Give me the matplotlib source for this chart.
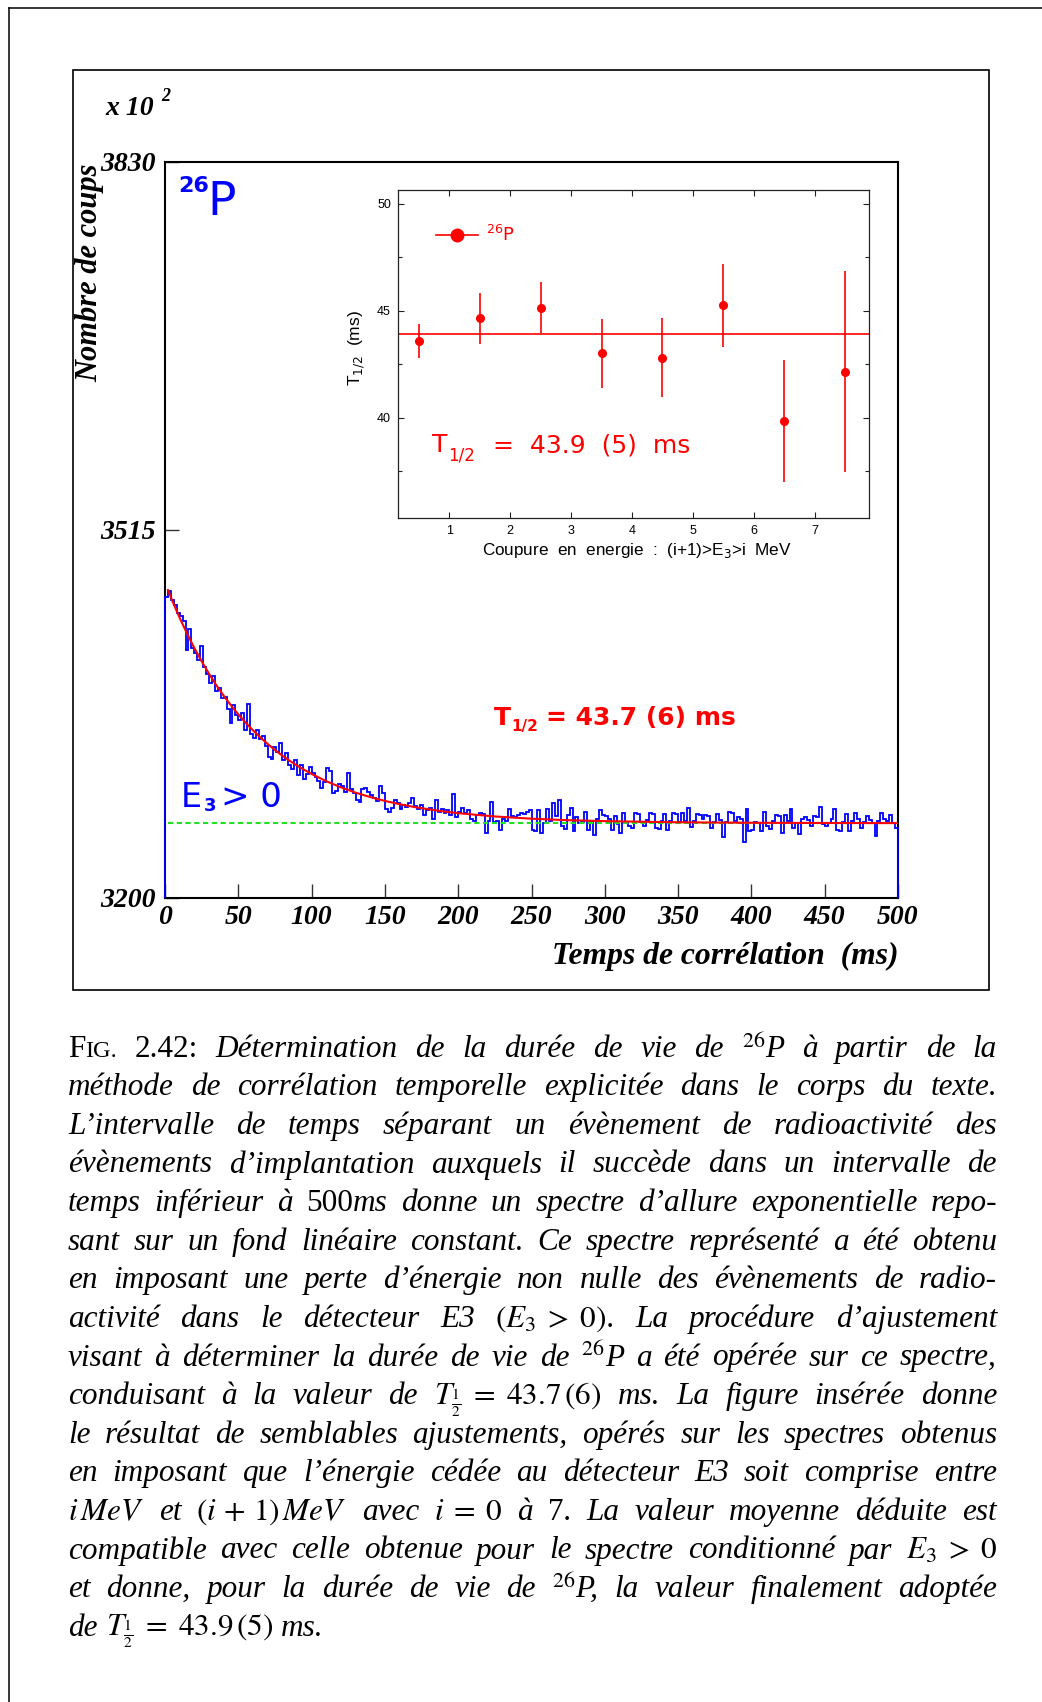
import numpy as np
import matplotlib
matplotlib.use("Agg")
import matplotlib.pyplot as plt
from matplotlib.lines import Line2D
from matplotlib.patches import Rectangle

# =========================================================
# DONNEES
# =========================================================

W, H = 1042, 1702

# spectre en temps : bins de 2 ms, unites de 10^2 coups
pas_ms = 2
coups = [
    3458, 3463, 3455, 3451, 3444, 3441, 3437, 3412, 3430, 3414,
    3410, 3404, 3416, 3398, 3392, 3384, 3390, 3377, 3380, 3371,
    3372, 3362, 3350, 3365, 3357, 3352, 3358, 3344, 3366, 3340,
    3337, 3344, 3336, 3339, 3330, 3321, 3319, 3329, 3325, 3333,
    3318, 3324, 3314, 3310, 3318, 3305, 3314, 3302, 3306, 3312,
    3307, 3304, 3300, 3294, 3299, 3311, 3309, 3290, 3292, 3298,
    3296, 3291, 3307, 3293, 3290, 3284, 3282, 3293, 3294, 3291,
    3288, 3286, 3283, 3296, 3290, 3276, 3274, 3277, 3284, 3281,
    3276, 3280, 3278, 3281, 3286, 3279, 3276, 3280, 3271, 3275,
    3277, 3268, 3284, 3274, 3276, 3273, 3275, 3271, 3289, 3269,
    3274, 3277, 3273, 3275, 3268, 3266, 3271, 3273, 3272, 3256,
    3266, 3282, 3265, 3266, 3258, 3268, 3266, 3276, 3270, 3269,
    3271, 3273, 3272, 3274, 3275, 3258, 3257, 3275, 3256, 3264,
    3276, 3266, 3281, 3270, 3284, 3262, 3259, 3271, 3277, 3257,
    3269, 3264, 3265, 3274, 3258, 3266, 3254, 3268, 3275, 3271,
    3270, 3268, 3258, 3270, 3263, 3256, 3273, 3264, 3262, 3260,
    3273, 3272, 3265, 3262, 3267, 3273, 3272, 3260, 3259, 3266,
    3272, 3258, 3266, 3273, 3272, 3265, 3273, 3266, 3277, 3261,
    3266, 3272, 3271, 3268, 3271, 3270, 3260, 3265, 3272, 3267,
    3252, 3265, 3274, 3273, 3266, 3269, 3268, 3248, 3276, 3257,
    3258, 3265, 3264, 3257, 3274, 3262, 3259, 3266, 3271, 3270,
    3256, 3271, 3266, 3276, 3260, 3264, 3255, 3268, 3269, 3267,
    3262, 3270, 3269, 3278, 3263, 3262, 3264, 3268, 3276, 3258,
    3257, 3265, 3272, 3257, 3266, 3273, 3268, 3260, 3265, 3270,
    3267, 3264, 3253, 3266, 3273, 3268, 3266, 3271, 3264, 3260,
]

# courbe d'ajustement (exponentielle + fond), T1/2 = 43.7 ms
t_fit = [2, 5, 10, 15, 20, 25, 30, 35, 40, 45, 50, 55, 60, 65, 70, 75,
         80, 85, 90, 95, 100, 110, 120, 130, 140, 150, 160, 170, 180,
         190, 200, 225, 250, 275, 300, 350, 400, 450, 500]
y_fit = [3463.6, 3454.3, 3439.8, 3426.4, 3414.0, 3402.6, 3392.0, 3382.2,
         3373.2, 3364.9, 3357.2, 3350.1, 3343.5, 3337.5, 3331.9, 3326.7,
         3321.9, 3317.5, 3313.4, 3309.7, 3306.2, 3300.0, 3294.7, 3290.2,
         3286.4, 3283.1, 3280.3, 3277.9, 3275.9, 3274.1, 3272.6, 3269.8,
         3267.9, 3266.6, 3265.8, 3264.8, 3264.4, 3264.2, 3264.1]
fond = 3264

# figure inseree : T1/2 par tranche d'energie
coupure = [0.5, 1.5, 2.5, 3.5, 4.5, 5.5, 6.5, 7.5]
t_demi = [43.6, 44.65, 45.15, 43.0, 42.8, 45.25, 39.85, 42.15]
err_t_demi = [0.8, 1.2, 1.2, 1.6, 1.85, 1.95, 2.85, 4.7]
t_moyen = 43.9

x_ticks = list(range(0, 501, 50))
y_ticks = [3200, 3515, 3830]

# =========================================================
# FIGURE
# =========================================================

fig = plt.figure(figsize=(W / 100, H / 100), dpi=100)


def fx(x):
    return x / W


def fy(y):
    return 1 - y / H


BLEU = '#0000ff'
ROUGE = '#ff0000'
VERT = '#22e022'
SERIF_BI = dict(family='Liberation Serif', weight='bold', style='italic')

# cadre de page + cadre de la figure
fig.add_artist(Line2D([fx(9), fx(9)], [0, fy(8)], color='black', lw=1.1))
fig.add_artist(Line2D([fx(9), 1], [fy(8), fy(8)], color='black', lw=1.1))
fig.add_artist(Rectangle((fx(73), fy(990)), 916 / W, 920 / H,
                         fill=False, ec='black', lw=1.2))

# ---------------------------------------------------------
# spectre principal
# ---------------------------------------------------------
ax = fig.add_axes([fx(165), fy(898), 733 / W, 736 / H])
bords = np.arange(0, 500 + pas_ms, pas_ms)
ax.stairs(coups, bords, baseline=3200, color=BLEU, lw=1.3,
          zorder=3, clip_on=False)
ax.hlines(fond, 2, 500, colors=VERT, lw=1.5,
          linestyles=(0, (2.5, 1.7)), zorder=4)
ax.plot(t_fit, y_fit, color=ROUGE, lw=1.5, zorder=5)

ax.set_xlim(0, 500)
ax.set_ylim(3200, 3830)
ax.set_xticks(x_ticks)
ax.set_yticks(y_ticks)
ax.tick_params(direction='in', length=10, width=1, color='#333333',
               top=False, right=False)
ax.tick_params(axis='x', pad=5)
ax.tick_params(axis='y', pad=7)
plt.setp(ax.get_xticklabels(), size=20, **SERIF_BI)
plt.setp(ax.get_yticklabels(), size=20, **SERIF_BI)
for sp in ax.spines.values():
    sp.set_linewidth(1.5)
    sp.set_color('black')

fig.text(fx(105), fy(115), 'x 10', size=20, va='baseline', **SERIF_BI)
fig.text(fx(161), fy(101), '2', size=13, va='baseline', **SERIF_BI)
fig.text(fx(90), fy(163), 'Nombre de coups', size=22, rotation=90,
         ha='center', va='top', **SERIF_BI)
fig.text(fx(898), fy(956), 'Temps de corrélation  (ms)', size=22.8,
         ha='right', va='center', **SERIF_BI)

fig.text(fx(178), fy(192), '26', size=16, weight='bold', color=BLEU,
         family='DejaVu Sans', va='baseline')
fig.text(fx(207), fy(215), 'P', size=34, color=BLEU,
         family='DejaVu Sans', va='baseline')

fig.text(fx(181), fy(807), 'E', size=24, color=BLEU,
         family='DejaVu Sans', va='baseline')
fig.text(fx(204), fy(811), '3', size=13, weight='bold', color=BLEU,
         family='DejaVu Sans', va='baseline')
fig.text(fx(221), fy(807), '> 0', size=24.5, color=BLEU,
         family='DejaVu Sans', va='baseline')

fig.text(fx(494), fy(725), 'T', size=18, weight='bold', color=ROUGE,
         family='DejaVu Sans', va='baseline')
fig.text(fx(511), fy(731), '1/2', size=11, weight='bold', color=ROUGE,
         family='DejaVu Sans', va='baseline')
fig.text(fx(546), fy(725), '= 43.7 (6) ms', size=18, weight='bold',
         color=ROUGE, family='DejaVu Sans', va='baseline')

# ---------------------------------------------------------
# figure inseree
# ---------------------------------------------------------
axi = fig.add_axes([fx(398), fy(518), 471 / W, 328 / H])
axi.axhline(t_moyen, color=ROUGE, lw=1.2)
axi.errorbar(coupure, t_demi, yerr=err_t_demi, fmt='o', color=ROUGE,
             ms=5.5, elinewidth=1.2, capsize=0)
axi.set_xlim(0.16, 7.89)
axi.set_ylim(35.3, 50.65)
axi.set_xticks(range(1, 8))
axi.set_yticks([40, 45, 50])
axi.set_yticks([37.5, 42.5, 47.5], minor=True)
axi.tick_params(which='both', direction='in', top=True, right=True,
                width=0.8, color='#222222')
axi.tick_params(which='major', length=4, labelsize=9, pad=5)
axi.tick_params(which='minor', length=3)
plt.setp(axi.get_xticklabels(), family='Liberation Sans')
plt.setp(axi.get_yticklabels(), family='Liberation Sans')
for sp in axi.spines.values():
    sp.set_linewidth(0.9)
    sp.set_color('#222222')

poignee = Line2D([], [], color=ROUGE, marker='o', ms=9, lw=1.2)
axi.legend([poignee], ['$^{26}$P'], loc='center left',
           bbox_to_anchor=((436 - 398) / 471, (518 - 235) / 328),
           frameon=False, borderpad=0, borderaxespad=0, handlelength=2.3,
           handletextpad=0.45, fontsize=13, labelcolor=ROUGE)

fig.text(fx(637), fy(551), 'Coupure  en  energie  :  (i+1)>E$_3$>i  MeV',
         size=12.3, family='Liberation Sans', ha='center', va='center')
fig.text(fx(357), fy(348), 'T$_{1/2}$  (ms)', size=12.5, rotation=90,
         family='Liberation Sans', ha='center', va='center')

fig.text(fx(432), fy(452), 'T', size=18, color=ROUGE,
         family='DejaVu Sans', va='baseline')
fig.text(fx(448), fy(460), '1/2', size=12, color=ROUGE,
         family='DejaVu Sans', va='baseline')
fig.text(fx(493), fy(452), '=  43.9  (5)  ms', size=18, color=ROUGE,
         family='DejaVu Sans', va='baseline')

# ---------------------------------------------------------
# legende (texte justifie)
# ---------------------------------------------------------
TAILLE = 22.5
IT = dict(family='Liberation Serif', style='italic', size=TAILLE)
RM = dict(family='Liberation Serif', size=TAILLE)
SC = dict(family='Liberation Serif', size=TAILLE * 0.78)
MA = dict(family='Liberation Serif', size=TAILLE, math_fontfamily='stix')


def mots(s):
    return [[(m, IT)] for m in s.split()]


lignes = [
    [[('F', RM), ('IG.', SC)], [('2.42:', RM)],
     *mots('Détermination de la durée de vie de'),
     [('$^{26}$', MA), ('P', IT)], *mots('à partir de la')],
    mots('méthode de corrélation temporelle explicitée dans le corps du texte.'),
    mots('L’intervalle de temps séparant un évènement de radioactivité des'),
    mots('évènements d’implantation auxquels il succède dans un intervalle de'),
    [*mots('temps inférieur à'), [('500', RM), ('ms', IT)],
     *mots('donne un spectre d’allure exponentielle repo-')],
    mots('sant sur un fond linéaire constant. Ce spectre représenté a été obtenu'),
    mots('en imposant une perte d’énergie non nulle des évènements de radio-'),
    [*mots('activité dans le détecteur E3'),
     [(r'$(E_3\;>\;0)$', MA), ('.', IT)],
     *mots('La procédure d’ajustement')],
    [*mots('visant à déterminer la durée de vie de'),
     [('$^{26}$', MA), ('P', IT)],
     *mots('a été opérée sur ce spectre,')],
    [*mots('conduisant à la valeur de'),
     [(r'$T_{\frac{1}{2}}\;=\;43.7\,(6)$', MA)],
     *mots('ms. La figure insérée donne')],
    mots('le résultat de semblables ajustements, opérés sur les spectres obtenus'),
    mots('en imposant que l’énergie cédée au détecteur E3 soit comprise entre'),
    [[(r'$i\,MeV$', MA)], *mots('et'), [(r'$(i\,+\,1)\,MeV$', MA)],
     *mots('avec'), [(r'$i\;=\;0$', MA)], *mots('à'), [('7', RM), ('.', IT)],
     *mots('La valeur moyenne déduite est')],
    [*mots('compatible avec celle obtenue pour le spectre conditionné par'),
     [(r'$E_3\;>\;0$', MA)]],
    [*mots('et donne, pour la durée de vie de'),
     [('$^{26}$', MA), ('P,', IT)],
     *mots('la valeur finalement adoptée')],
    [*mots('de'), [(r'$T_{\frac{1}{2}}\;=\;43.9\,(5)$', MA)], *mots('ms.')],
]

rend = fig.canvas.get_renderer()


def largeur(s, st):
    t = fig.text(0, 0, s, **st)
    w = t.get_window_extent(rend).width
    t.remove()
    return w


X0, X1 = 68, 997
for k, ligne in enumerate(lignes):
    yb = 1056.7 + 38.6 * k
    larg = [[largeur(s, st) for s, st in mot] for mot in ligne]
    total = sum(sum(w) for w in larg)
    if k < len(lignes) - 1:
        ecart = (X1 - X0 - total) / (len(ligne) - 1)
    else:
        ecart = 8
    x = X0
    for mot, ws in zip(ligne, larg):
        for (s, st), w in zip(mot, ws):
            fig.text(fx(x), fy(yb), s, ha='left', va='baseline', **st)
            x += w
        x += ecart

fig.savefig('out.png', dpi=100)
